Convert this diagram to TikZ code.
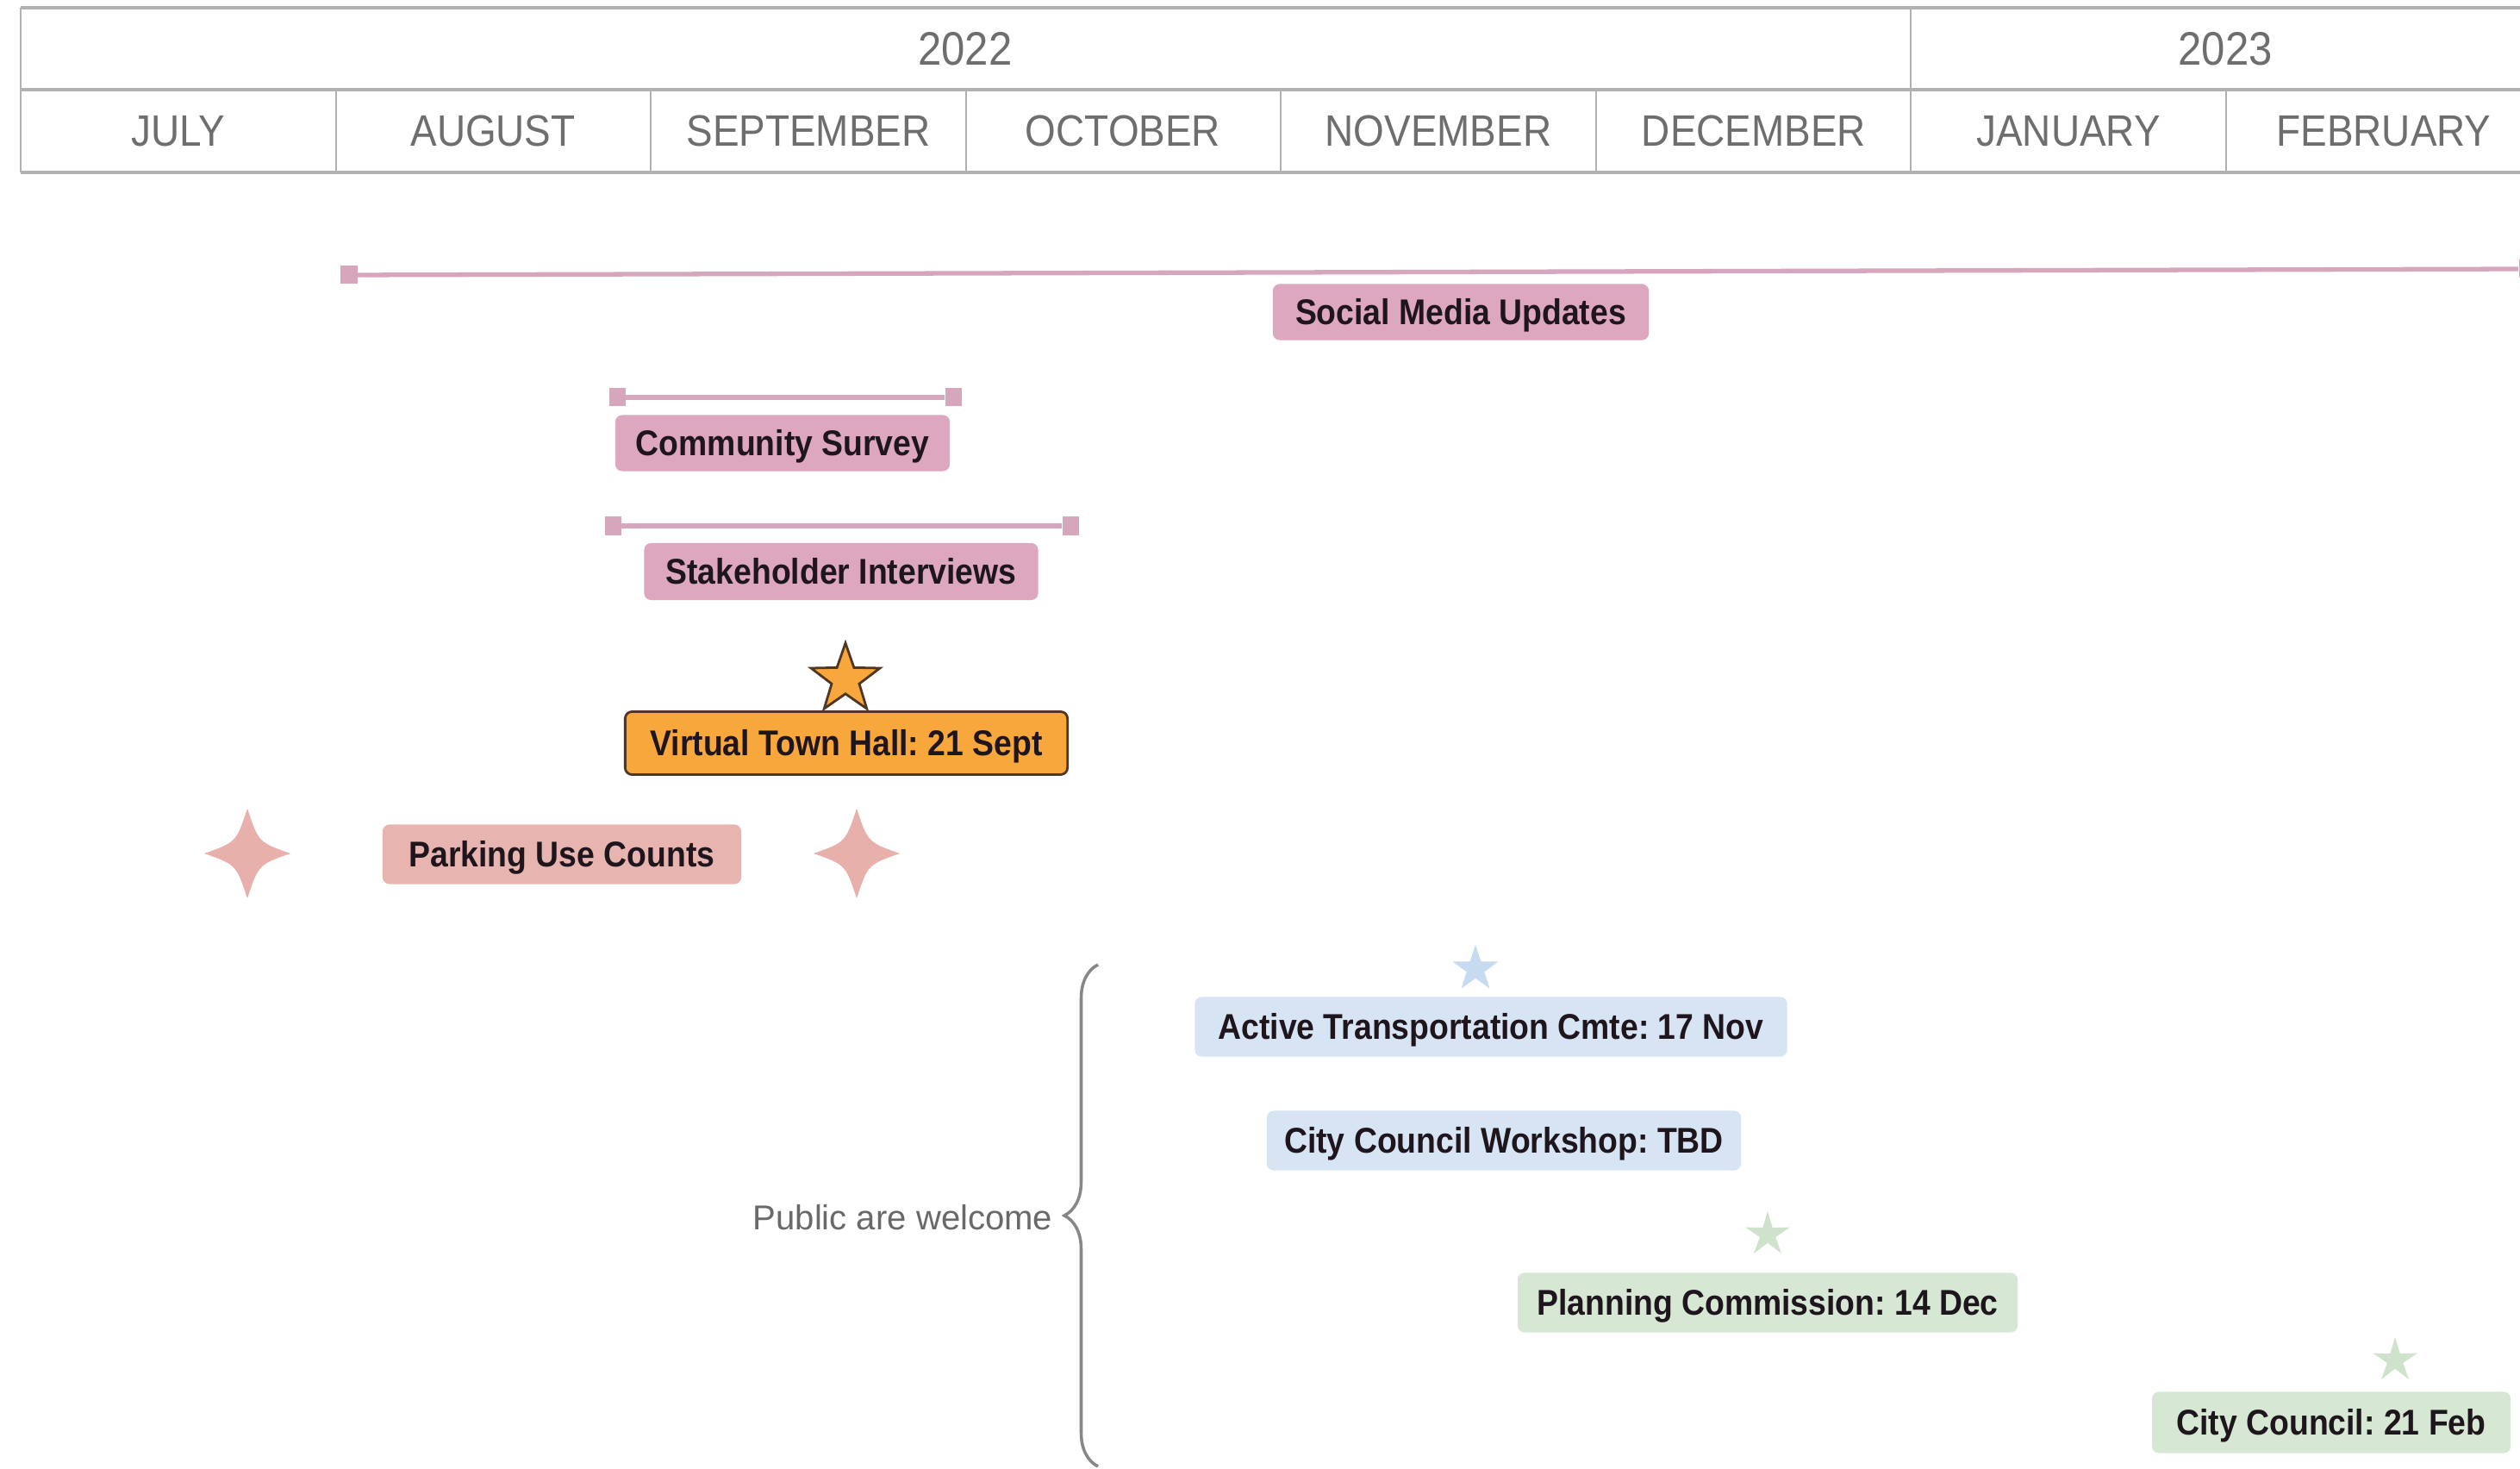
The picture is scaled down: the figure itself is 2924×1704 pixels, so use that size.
\documentclass[tikz,border=0pt]{standalone}
\usepackage{fontspec}
\setmainfont{Liberation Sans}
\newfontfamily\hdrfont[FakeStretch=0.9]{Liberation Sans}
\newfontfamily\lblfont[FakeStretch=0.9]{Liberation Sans}
\usetikzlibrary{shapes.geometric,decorations.pathreplacing}
\frenchspacing
\definecolor{gridgray}{RGB}{178,178,178}
\definecolor{hdrtext}{RGB}{110,110,110}
\definecolor{barpink}{RGB}{214,166,188}
\definecolor{boxpink}{RGB}{220,167,191}
\definecolor{boxsalmon}{RGB}{232,180,176}
\definecolor{sparkcol}{RGB}{232,176,170}
\definecolor{boxblue}{RGB}{214,228,244}
\definecolor{starblue}{RGB}{198,218,240}
\definecolor{boxgreen}{RGB}{214,232,212}
\definecolor{stargreen}{RGB}{206,226,204}
\definecolor{orangefill}{RGB}{248,167,60}
\definecolor{orangeline}{RGB}{80,55,35}
\definecolor{labeltext}{RGB}{30,22,28}
\definecolor{pubgray}{RGB}{105,105,105}
\tikzset{
  hline/.style={draw=gridgray, line width=1.3pt},
  vline/.style={draw=gridgray, line width=0.8pt},
  monthtxt/.style={font=\hdrfont\fontsize{14.5}{17}\selectfont, text=hdrtext, inner sep=0},
  yeartxt/.style={font=\hdrfont\fontsize{15.5}{18}\selectfont, text=hdrtext, inner sep=0},
  lbl/.style={rounded corners=0.08cm, inner sep=0, align=center, text=labeltext,
    text height=8.5pt, text depth=0pt,
    font=\lblfont\bfseries\fontsize{11.8}{14}\selectfont},
  pinklbl/.style={lbl, fill=boxpink},
  salmonlbl/.style={lbl, fill=boxsalmon},
  bluelbl/.style={lbl, fill=boxblue},
  greenlbl/.style={lbl, fill=boxgreen},
  orangelbl/.style={lbl, fill=orangefill, draw=orangeline, line width=0.8pt},
  bar/.style={draw=barpink, line width=1.5pt},
  endmark/.style={fill=barpink, minimum width=0.19cm, minimum height=0.21cm, inner sep=0},
  starmark/.style={star, star points=5, inner sep=0},
  pubtxt/.style={font=\fontsize{11.4}{14}\selectfont, text=pubgray, inner sep=0},
  bracestyle/.style={draw=pubgray!80, line width=1pt},
  sparkle/.pic={\fill[sparkcol] (0,-52) .. controls (13,-13) .. (50,0) .. controls (13,13) .. (0,52) .. controls (-13,13) .. (-50,0) .. controls (-13,-13) .. cycle;}
}
\begin{document}
\begin{tikzpicture}[x=0.01cm,y=-0.01cm]
\clip (0,0) rectangle (2924,1704);
\fill[white] (0,0) rectangle (2924,1704);
% header grid
\draw[hline] (24,9) -- (2990,9);
\draw[hline] (24,104) -- (2990,104);
\draw[hline] (24,200) -- (2990,200);
\draw[vline] (24,9) -- (24,200);
\draw[vline] (2217,9) -- (2217,200);
\foreach \mx in {390,755,1121,1486,1852,2583}{
  \draw[vline] (\mx,104) -- (\mx,200);
}
\node[yeartxt] (y2022) at (1120,57) {2022};
\node[yeartxt] (y2023) at (2582,57) {2023};
\node[monthtxt] (mjul) at (207,152) {JULY};
\node[monthtxt] (maug) at (572,152) {AUGUST};
\node[monthtxt] (msep) at (938,152) {SEPTEMBER};
\node[monthtxt] (moct) at (1303,152) {OCTOBER};
\node[monthtxt] (mnov) at (1669,152) {NOVEMBER};
\node[monthtxt] (mdec) at (2035,152) {DECEMBER};
\node[monthtxt] (mjan) at (2400,152) {JANUARY};
\node[monthtxt] (mfeb) at (2766,152) {FEBRUARY};
% social media
\node[endmark] (smL) at (405,319) {};
\node[endmark] (smR) at (2932,312) {};
\draw[bar] (smL) -- (smR);
\node[pinklbl, minimum width=4.36cm, minimum height=0.65cm] (social) at (1695,362) {Social Media Updates};
% community survey
\node[endmark] (csL) at (716,461) {};
\node[endmark] (csR) at (1106,461) {};
\draw[bar] (csL) -- (csR);
\node[pinklbl, minimum width=3.88cm, minimum height=0.65cm] (survey) at (908,514) {Community Survey};
% stakeholder interviews
\node[endmark] (siL) at (711,610) {};
\node[endmark] (siR) at (1242,610) {};
\draw[bar] (siL) -- (siR);
\node[pinklbl, minimum width=4.57cm, minimum height=0.66cm] (interviews) at (976,663) {Stakeholder Interviews};
% virtual town hall
\node[starmark, star point ratio=2.5, minimum size=0.84cm, fill=orangefill, draw=orangeline, line width=0.8pt] (vthstar) at (981,788) {};
\node[orangelbl, minimum width=5.13cm, minimum height=0.73cm] (townhall) at (982,862) {Virtual Town Hall: 21 Sept};
% parking
\pic at (287,990) {sparkle};
\pic at (994,990) {sparkle};
\node[salmonlbl, minimum width=4.16cm, minimum height=0.69cm] (parking) at (652,991) {Parking Use Counts};
% public meetings
\node[pubtxt, anchor=east] (pub) at (1222,1412) {Public are welcome};
\coordinate (brbot) at (1274,1701);
\coordinate (brtop) at (1274,1119);
\draw[bracestyle, decorate, decoration={brace, amplitude=0.39cm}] (brbot) -- (brtop);
\node[starmark, star point ratio=2.6, minimum size=0.56cm, fill=starblue] (atcstar) at (1712,1124) {};
\node[bluelbl, minimum width=6.87cm, minimum height=0.69cm] (atc) at (1730,1191) {Active Transportation Cmte: 17 Nov};
\node[bluelbl, minimum width=5.50cm, minimum height=0.69cm] (ccw) at (1745,1323) {City Council Workshop: TBD};
\node[starmark, star point ratio=2.8, minimum size=0.54cm, fill=stargreen] (pcstar) at (2051,1432) {};
\node[greenlbl, minimum width=5.80cm, minimum height=0.69cm] (pc) at (2051,1511) {Planning Commission: 14 Dec};
\node[starmark, star point ratio=2.8, minimum size=0.54cm, fill=stargreen] (ccstar) at (2779,1578) {};
\node[greenlbl, minimum width=4.16cm, minimum height=0.71cm] (cc) at (2705,1650) {City Council: 21 Feb};
\end{tikzpicture}
\end{document}
